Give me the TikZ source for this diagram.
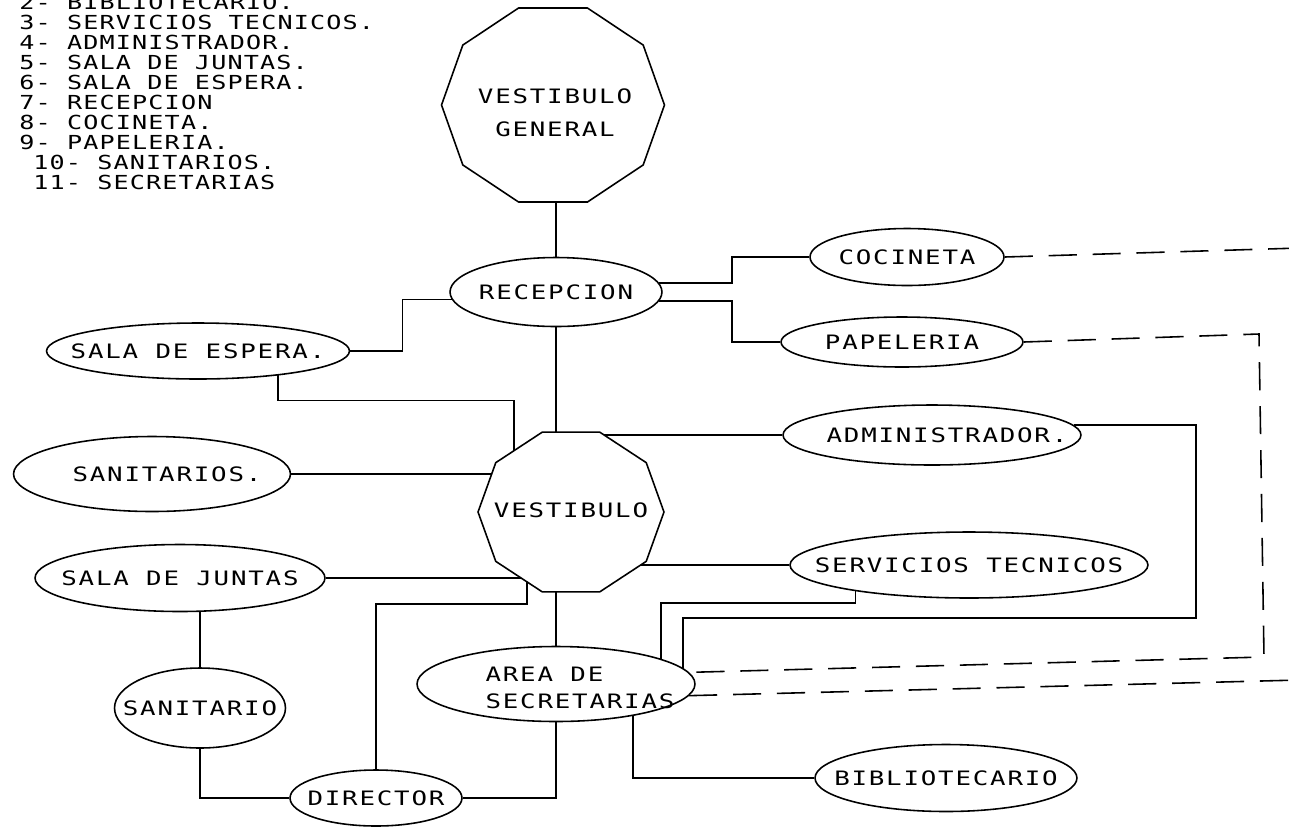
\documentclass[tikz,border=0pt]{standalone}
\usepackage{fontspec}
\newfontfamily\plotfont{DejaVu Sans Mono}[FakeStretch=1.3, LetterSpace=9]
\newfontfamily\legendfont{DejaVu Sans Mono}[FakeStretch=1.3, LetterSpace=6]
\usepackage{tikz}
\usetikzlibrary{shapes.geometric, backgrounds, calc}
\tikzset{
  room/.style 2 args={ellipse, draw=black, fill=white, line width=0.9pt,
                inner sep=0pt, minimum width=#1, minimum height=#2},
  hall/.style={draw=black, fill=white, line width=0.9pt},
  tag/.style={font=\plotfont\fontsize{11.3pt}{15pt}\selectfont, inner sep=0pt},
  lgd/.style={font=\legendfont\fontsize{11pt}{13pt}\selectfont,
              anchor=west, inner sep=0pt},
  link/.style={line width=0.9pt, black},
  dlink/.style={link, dash pattern=on 16pt off 9pt},
}

\begin{document}
\begin{tikzpicture}[x=0.02cm, y={(0,-0.02cm)}]
  \useasboundingbox (0,0) rectangle (1289,826);
  %% Legend
  \foreach \n/\t/\dx [count=\i from 0] in {2/BIBLIOTECARIO./0,
      3/SERVICIOS TECNICOS./0, 4/ADMINISTRADOR./0, 5/SALA DE JUNTAS./0,
      6/SALA DE ESPERA./0, 7/RECEPCION/0, 8/COCINETA./0, 9/PAPELERIA./0,
      10/SANITARIOS./14, 11/SECRETARIAS/14}
    \node[lgd] (leg\n) at (19+\dx, 2+20*\i) {\n- \t};
  %% Halls
  \coordinate (vgc) at (553,105);
  \draw[hall] (vgc) +(0:2.23cm and 2.04cm)
    \foreach \a in {36,72,...,324} { -- +(\a:2.23cm and 2.04cm) } -- cycle;
  \node[tag, align=center] (vg) at (555,113) {VESTIBULO\\[4pt]GENERAL};
  \coordinate (vc) at (571,512);
  \draw[hall] (vc) +(0:1.86cm and 1.68cm)
    \foreach \a in {36,72,...,324} { -- +(\a:1.86cm and 1.68cm) } -- cycle;
  \node[tag] (vest) at (571,510) {VESTIBULO};
  %% Rooms
  \node[room={4.24cm}{1.38cm}, label={[tag]center:RECEPCION}] (rec) at (556,292) {};
  \node[room={3.88cm}{1.14cm}, label={[tag]center:COCINETA}] (coc) at (907,257) {};
  \node[room={4.84cm}{1.0cm}, label={[tag]center:PAPELERIA}] (pap) at (902,342) {};
  \node[room={6.06cm}{1.12cm}, label={[tag]center:SALA DE ESPERA.}] (esp) at (198,351) {};
  \node[room={5.96cm}{1.2cm}, label={[tag, xshift=0.3cm]center:ADMINISTRADOR.}] (adm) at (932,435) {};
  \node[room={5.54cm}{1.5cm}, label={[tag, xshift=0.3cm]center:SANITARIOS.}] (san) at (152,474) {};
  \node[room={5.8cm}{1.34cm}, label={[tag]center:SALA DE JUNTAS}] (sj) at (180,578) {};
  \node[room={7.16cm}{1.32cm}, label={[tag]center:SERVICIOS TECNICOS}] (st) at (969,565) {};
  \node[room={5.56cm}{1.5cm}, label={[tag, align=left, xshift=0.48cm, yshift=-0.08cm]center:AREA DE\\SECRETARIAS}] (sec) at (556,684) {};
  \node[room={3.42cm}{1.6cm}, label={[tag]center:SANITARIO}] (sa) at (200,708) {};
  \node[room={3.44cm}{1.12cm}, label={[tag]center:DIRECTOR}] (dir) at (376,798) {};
  \node[room={5.24cm}{1.34cm}, label={[tag]center:BIBLIOTECARIO}] (bib) at (946,778) {};
  %% Off-page ends of the dashed runs
  \coordinate (cocout) at (1300,248);
  \coordinate (papbend) at (1259,334);
  \coordinate (papdrop) at (1264,657);
  \coordinate (secout) at (1300,680);
  \begin{scope}[on background layer]
    \draw[link] (rec.north) -- (rec.north |- vgc);
    \draw[link] (rec.south) -- (rec.south |- vest);
    \draw[link] (rec.184) -- ++(-49,0) |- (esp.east);
    \draw[link] (rec.5) -- ++(73,0) |- (coc.west);
    \draw[link] (rec.-5) -- ++(73,0) |- (pap.west);
    \draw[link] (esp.-17) -- ++(0,25) -| ($(vest)+(-57,0)$);
    \foreach \r in {san,sj}
      \draw[link] (\r.east) -- (\r.east -| vest);
    \foreach \r in {adm,st}
      \draw[link] (\r.west) -- (\r.west -| vest);
    \draw[link] (sec.north) -- (sec.north |- vest);
    \draw[link] ($(vest)+(-44,0)$) -- ++(0,94) -| (dir.north);
    \draw[link] (st.-167) -- ++(0,12) -| ($(sec)+(105,0)$);
    \draw[link] (adm.4) -- ++(122,0) -- ++(0,193) -| ($(sec)+(127,0)$);
    \draw[link] (sa.north) -- (sa.north |- sj);
    \draw[link] (sa.south) |- (dir.west);
    \draw[link] (sec.south) |- (dir.east);
    \draw[link] ($(sec)+(77,0)$) |- (bib.west);
    \draw[dlink] (coc.east) -- (cocout);
    \draw[dlink] (pap.east) -- (papbend) -- (papdrop) -- (sec.5);
    \draw[dlink] (sec.-5) -- (secout);
  \end{scope}
\end{tikzpicture}
\end{document}
